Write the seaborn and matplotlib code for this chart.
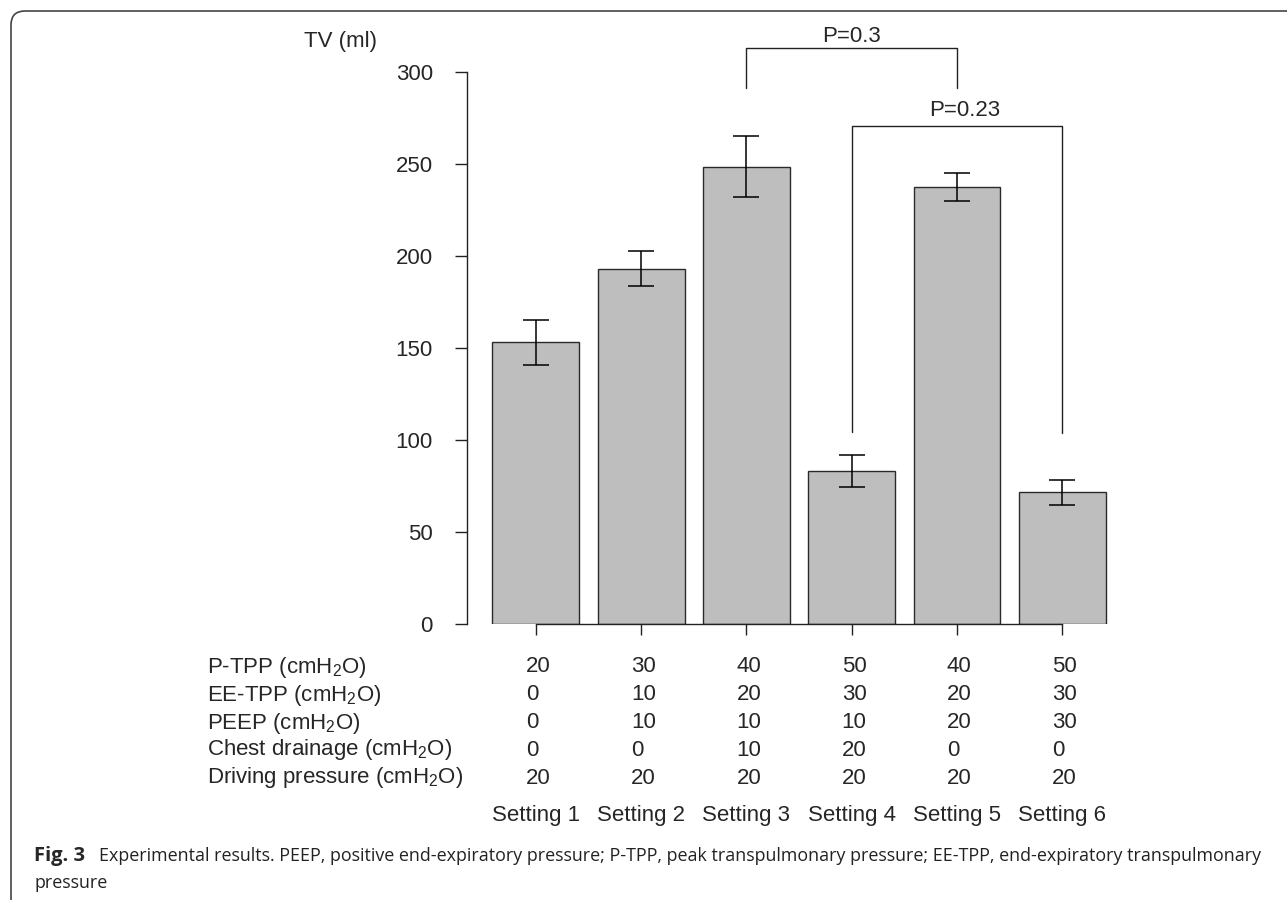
import matplotlib
matplotlib.use("Agg")
import matplotlib.pyplot as plt
from matplotlib.patches import FancyBboxPatch
from matplotlib.transforms import IdentityTransform
import seaborn as sns
import pandas as pd

# ---- data ----
settings = ["Setting 1", "Setting 2", "Setting 3", "Setting 4", "Setting 5", "Setting 6"]
tv_mean = [153, 193, 248.5, 83, 237.5, 71.5]
tv_err = [12, 9.5, 16.5, 8.7, 7.4, 6.8]

row_labels = [r"P-TPP (cmH$_2$O)", r"EE-TPP (cmH$_2$O)", r"PEEP (cmH$_2$O)",
              r"Chest drainage (cmH$_2$O)", r"Driving pressure (cmH$_2$O)"]
p_tpp = [20, 30, 40, 50, 40, 50]
ee_tpp = [0, 10, 20, 30, 20, 30]
peep = [0, 10, 10, 10, 20, 30]
chest_drainage = [0, 0, 10, 20, 0, 0]
driving_pressure = [20, 20, 20, 20, 20, 20]
table_rows = [p_tpp, ee_tpp, peep, chest_drainage, driving_pressure]

comparisons = [(2, 4, "P=0.3"), (3, 5, "P=0.23")]
y_ticks = [0, 50, 100, 150, 200, 250, 300]

caption_bold = "Fig. 3"
caption_line1 = ("Experimental results. PEEP, positive end-expiratory pressure; P-TPP, peak transpulmonary "
                 "pressure; EE-TPP, end-expiratory transpulmonary")
caption_line2 = "pressure"

# ---- style ----
sns.set_style("white")
plt.rcParams["font.family"] = ["Liberation Sans", "DejaVu Sans"]
plt.rcParams["mathtext.fontset"] = "custom"
plt.rcParams["mathtext.rm"] = "Liberation Sans"
plt.rcParams["mathtext.it"] = "Liberation Sans:italic"
plt.rcParams["mathtext.bf"] = "Liberation Sans:bold"
FS = 16

W, H = 1287, 900
fig = plt.figure(figsize=(W / 100, H / 100), dpi=100)
fig.patch.set_facecolor("white")

ax = fig.add_axes([467 / W, (H - 624) / H, 650 / W, 552 / H])
df = pd.DataFrame({"setting": settings, "tv": tv_mean})
sns.barplot(data=df, x="setting", y="tv", color="#bebebe", saturation=1,
            width=0.825, edgecolor="#2a2a2a", linewidth=1.0, ax=ax, zorder=2)
ax.errorbar(range(len(settings)), tv_mean, yerr=tv_err, fmt="none",
            ecolor="black", elinewidth=1.1, capsize=9.3, capthick=1.1, zorder=3)

ax.set_xlim(-0.654, 5.52)
ax.set_ylim(0, 300)
ax.set_xlabel("")
ax.set_ylabel("")
for s in ["top", "right"]:
    ax.spines[s].set_visible(False)
ax.spines["left"].set_bounds(0, 300)
ax.spines["bottom"].set_bounds(0, 5)
for s in ["left", "bottom"]:
    ax.spines[s].set_color("#222222")
    ax.spines[s].set_linewidth(1.0)
ax.set_yticks(y_ticks)
ax.set_yticklabels([str(v) for v in y_ticks], fontsize=FS)
ax.set_xticks(range(len(settings)))
ax.set_xticklabels([])
ax.tick_params(axis="y", direction="out", length=8.6, width=1.0, color="#222222", pad=16, left=True)
ax.tick_params(axis="x", direction="out", length=8.2, width=1.0, color="#222222", bottom=True)

# y label at top
fig.text(340 / W, 1 - 41 / H, "TV (ml)", fontsize=FS, ha="center", va="center")

# significance brackets (data coords, outside axes)
bracket_y = [313, 270.5]
bracket_low = [(291.5, 291.5), (104.5, 104)]
text_y = [319.5, 279]
text_dx = [0, 0.07]
for (i, j, lab), by, (l1, l2), ty, dx in zip(comparisons, bracket_y, bracket_low, text_y, text_dx):
    ax.plot([i, i, j, j], [l1, by, by, l2], color="#222222", lw=1.0, clip_on=False, zorder=4)
    ax.text((i + j) / 2 + dx, ty, lab, ha="center", va="center", fontsize=FS, clip_on=False)

# table under the bars
row_y = [667, 695, 723, 750, 778]
for lab, vals, py in zip(row_labels, table_rows, row_y):
    fig.text(207 / W, 1 - py / H, lab, fontsize=FS, ha="left", va="center")
    for k, v in enumerate(vals):
        xd = ax.transData.transform((k, 0))[0]
        fig.text((xd - 10) / W, 1 - py / H, str(v), fontsize=FS, ha="left", va="center")

for k, s in enumerate(settings):
    xd = ax.transData.transform((k, 0))[0]
    fig.text(xd / W, 1 - 816 / H, s, fontsize=FS, ha="center", va="center")

# caption
cap_font = ["Open Sans", "DejaVu Sans"]
fig.text(34 / W, 1 - 856 / H, caption_bold, fontsize=14.5, fontweight="bold",
         family=cap_font, ha="left", va="center")
fig.text(99 / W, 1 - 856 / H, caption_line1, fontsize=12.9,
         family=cap_font, ha="left", va="center", color="#222222")
fig.text(34 / W, 1 - 883 / H, caption_line2, fontsize=12.9,
         family=cap_font, ha="left", va="center", color="#222222")

# rounded frame (top + left)
frame = FancyBboxPatch((11, -60), 1500, H - 11 + 60, boxstyle="round,pad=0,rounding_size=14",
                       transform=IdentityTransform(), fill=False, edgecolor="#444444", lw=1.2)
fig.patches.append(frame)

fig.savefig("out.png", dpi=100)
